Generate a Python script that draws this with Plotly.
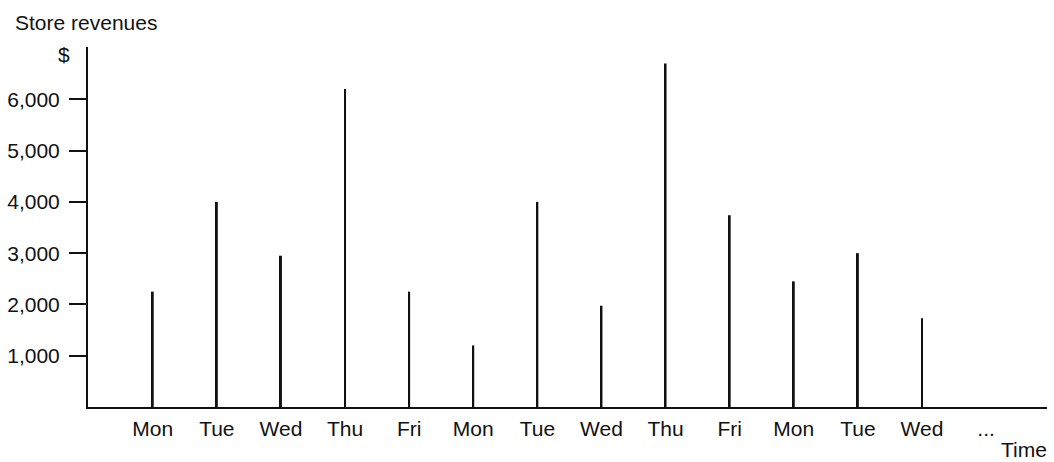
"""
Store revenues per day, drawn as thin spikes.
"""

import plotly.graph_objects as go

# Dados
DIAS = ["Mon", "Tue", "Wed", "Thu", "Fri", "Mon", "Tue", "Wed", "Thu", "Fri",
        "Mon", "Tue", "Wed"]
RECEITA = [2250, 4000, 2950, 6200, 2250, 1200, 4000, 1975, 6700, 3740,
           2450, 3000, 1730]
ROTULOS_X = DIAS + ["..."]
TICKS_Y = [1000, 2000, 3000, 4000, 5000, 6000]

FONTE = dict(family="Liberation Sans, Arial, sans-serif", size=21, color="#111")

posicoes = list(range(len(DIAS)))

fig = go.Figure()
fig.add_trace(go.Bar(
    x=posicoes,
    y=RECEITA,
    width=0.03,
    marker_color="#111",
    marker_line_width=0,
))

fig.update_layout(
    paper_bgcolor="white",
    plot_bgcolor="white",
    font=FONTE,
    width=1054,
    height=462,
    margin=dict(l=88, r=7, t=47, b=55),
    showlegend=False,
    xaxis=dict(
        range=[-1.01, 13.95],
        tickvals=list(range(len(ROTULOS_X))),
        ticktext=ROTULOS_X,
        showgrid=False,
        zeroline=False,
        showline=True,
        linecolor="#111",
        linewidth=2,
        ticks="",
        ticklabelstandoff=2,
    ),
    yaxis=dict(
        range=[0, 7020],
        tickvals=TICKS_Y,
        tickformat=",",
        showgrid=False,
        zeroline=False,
        showline=True,
        linecolor="#111",
        linewidth=2,
        ticks="outside",
        ticklen=17,
        tickwidth=2,
        tickcolor="#111",
        ticklabelstandoff=5,
    ),
    annotations=[
        dict(text="Store revenues", xref="paper", yref="paper",
             x=-0.0785, y=1.067, xanchor="left", yanchor="middle",
             showarrow=False, font=FONTE),
        dict(text="$", xref="paper", yref="paper",
             x=-0.025, y=0.978, xanchor="center", yanchor="middle",
             showarrow=False, font=FONTE),
        dict(text="Time", xref="paper", yref="paper",
             x=1.002, y=-0.119, xanchor="right", yanchor="middle",
             showarrow=False, font=FONTE),
    ],
)

# tira a margem padrão do body para a figura ocupar a janela toda
fig.write_html("out.html", config={"displayModeBar": False},
               post_script="document.body.style.margin='0';")
